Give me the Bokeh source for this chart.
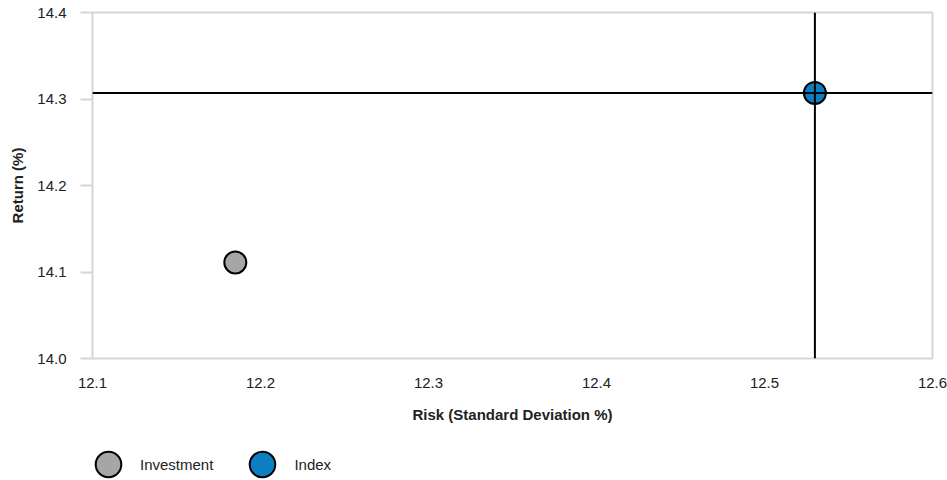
from bokeh.plotting import figure
from bokeh.layouts import column
from bokeh.models import (ColumnDataSource, Span, FixedTicker, PrintfTickFormatter,
                          Range1d, Legend, LegendItem)
from bokeh.embed import file_html
from bokeh.resources import INLINE

# ---- data ----
series_names = ["Investment", "Index"]
risk = [12.185, 12.53]          # standard deviation %
ret = [14.111, 14.307]          # return %
colors = ["#a6a6a6", "#0b7fc2"]
x_ticks = [12.1, 12.2, 12.3, 12.4, 12.5, 12.6]
y_ticks = [14.0, 14.1, 14.2, 14.3, 14.4]

FONT = "Liberation Sans"
TXT = "#222222"
GRID = "#d6d6d6"

p = figure(width=947, height=430, output_backend="svg", toolbar_location=None,
           x_range=Range1d(x_ticks[0], x_ticks[-1]), y_range=Range1d(y_ticks[0], y_ticks[-1]),
           min_border_left=92, min_border_top=12, min_border_right=15, min_border_bottom=72)

p.xgrid.visible = False
p.ygrid.visible = False
p.outline_line_color = GRID
p.outline_line_width = 2
p.background_fill_color = "white"
p.border_fill_color = "white"

# crosshair at index
p.add_layout(Span(location=risk[1], dimension="height", line_color="black", line_width=2))
p.add_layout(Span(location=ret[1], dimension="width", line_color="black", line_width=2))

for i, name in enumerate(series_names):
    src = ColumnDataSource(dict(x=[risk[i]], y=[ret[i]]))
    p.scatter("x", "y", source=src, size=22, fill_color=colors[i],
              line_color="black", line_width=2)

# axes
p.xaxis.ticker = FixedTicker(ticks=x_ticks)
p.yaxis.ticker = FixedTicker(ticks=y_ticks)
p.xaxis.formatter = PrintfTickFormatter(format="%.1f")
p.yaxis.formatter = PrintfTickFormatter(format="%.1f")
for ax in (p.xaxis[0], p.yaxis[0]):
    ax.axis_line_color = None
    ax.minor_tick_line_color = None
    ax.major_label_text_font = FONT
    ax.major_label_text_font_size = "15px"
    ax.major_label_text_color = TXT
    ax.axis_label_text_font = FONT
    ax.axis_label_text_font_size = "15px"
    ax.axis_label_text_font_style = "bold"
    ax.axis_label_text_color = TXT
    ax.major_tick_in = 0

p.xaxis.axis_label = "Risk (Standard Deviation %)"
p.xaxis.major_tick_out = 0
p.xaxis.major_label_standoff = 19
p.xaxis.axis_label_standoff = 15

p.yaxis.axis_label = "Return (%)"
p.yaxis.major_tick_out = 12
p.yaxis.major_tick_line_color = GRID
p.yaxis.major_tick_line_width = 2
p.yaxis.major_label_standoff = 14
p.yaxis.axis_label_standoff = 8

# ---- legend strip below the chart ----
lg = figure(width=947, height=50, output_backend="svg", toolbar_location=None,
            x_range=Range1d(0, 1), y_range=Range1d(0, 1),
            min_border_left=0, min_border_right=0, min_border_top=0, min_border_bottom=0)
lg.axis.visible = False
lg.grid.visible = False
lg.outline_line_color = None
lg.border_fill_color = "white"

items = []
for i, name in enumerate(series_names):
    # legend-only renderers: the series point lies outside this strip's range
    r = lg.scatter(x=[risk[i]], y=[ret[i]], size=22, fill_color=colors[i],
                   line_color="black", line_width=2)
    items.append(LegendItem(label=name, renderers=[r]))

legend = Legend(items=items, location=(-16, -16), orientation="horizontal",
                glyph_width=64, glyph_height=64, label_standoff=0, spacing=17,
                padding=0, margin=0, border_line_color=None, background_fill_alpha=0,
                label_text_font=FONT, label_text_font_size="15px", label_text_color=TXT)
lg.add_layout(legend, "center")

layout = column(p, lg, spacing=0)
open("out.html", "w").write(file_html(layout, INLINE))
